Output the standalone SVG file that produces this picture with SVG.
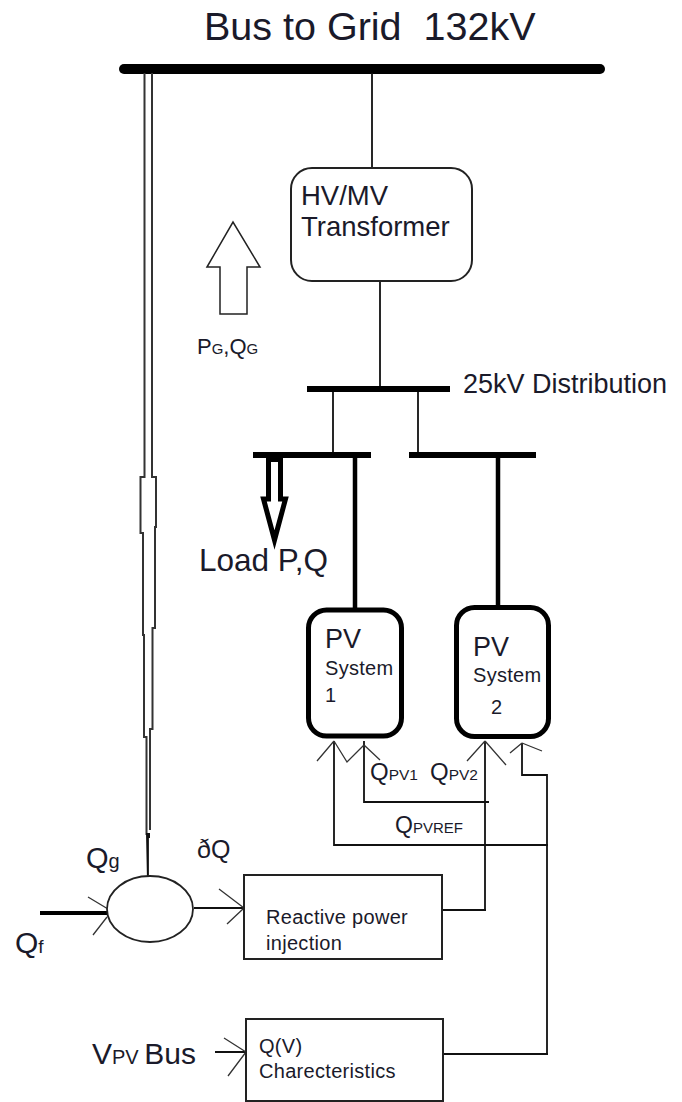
<svg xmlns="http://www.w3.org/2000/svg" width="682" height="1102" viewBox="0 0 682 1102">
<style>
text{font-family:"Liberation Sans",Arial,sans-serif;fill:#1a1a2a}
.l{fill:none;stroke:#111;stroke-width:2}
.t{fill:none;stroke:#111;stroke-width:1.800}
.p{fill:none;stroke:#333;stroke-width:2}
.h{fill:none;stroke:#333;stroke-width:1.300}
.bg{fill:#fff;stroke:#222;stroke-width:2}
.s19{font-size:20px;letter-spacing:.3px}
</style>
<rect width="682" height="1102" fill="#fff"/>
<g id="connectors">
<path d="M124 69H600" stroke="#000" stroke-width="10" stroke-linecap="round" fill="none"/>
<path class="t" d="M372 73V168M380 281V386M333 389V455M418 389V455"/>
<path d="M307 389H450M253 455H371M409 455H536" stroke="#000" stroke-width="6" fill="none"/>
<path d="M355 455V610M498 455V607" stroke="#000" stroke-width="4.500" fill="none"/>
<path class="p" d="M144.500 73V477H140.500V533H143V635H144V737H146.500V835M152 73V477H156V527H155V628H152.500V729H150V830"/>
<path d="M146 833H150V838H148V880H147Z" fill="#111"/>
<path d="M148 835V878" class="t"/>
<path d="M40 913H107" fill="none" stroke="#000" stroke-width="4"/>
<path class="t" d="M194 908H244M215 1052H246M442 910H486M485 910V741M443 1054H548M547 1054V775H522V743M548 845H334V741M364 741V802H489"/>
<path class="h" d="M113 912L88 897M107 917L93 935M244 908L219 889M244 908L227 924M246 1052L224 1038M246 1052L228 1076M334 741L317 761M334 741L347 762L364 745M364 745L380 760M485 741L467 761M485 741L506 765M522 743L510 753M522 743L542 751"/>
</g>
<g id="up-arrow"><path d="M207 267L233 222L260 267H247V314H220V267Z" fill="#fff" stroke="#222" stroke-width="1.500"/></g>
<g id="load-arrow"><path d="M268.500 458V499H263.500L274.500 540L285.500 499H280.500V458" fill="#fff" stroke="#000" stroke-width="5"/><path d="M266 459H283" stroke="#000" stroke-width="6"/></g>
<g id="transformer"><rect class="bg" x="291" y="168" width="181" height="113" rx="21"/><text x="301" y="205" font-size="27.500">HV/MV</text><text x="301" y="236" font-size="27.500">Transformer</text></g>
<g id="pv1"><rect x="308.500" y="610" width="93" height="126" rx="18" fill="#fff" stroke="#000" stroke-width="5"/><text x="325" y="648" font-size="27">PV</text><text x="325" y="675" class="s19">System</text><text x="325" y="702" class="s19">1</text></g>
<g id="pv2"><rect x="456.500" y="607.500" width="92" height="129" rx="18" fill="#fff" stroke="#000" stroke-width="5"/><text x="473" y="656" font-size="27">PV</text><text x="473" y="682" class="s19">System</text><text x="491" y="714" class="s19">2</text></g>
<g id="sum"><ellipse cx="150" cy="909" rx="43" ry="33" fill="#fff" stroke="#222" stroke-width="1.800"/></g>
<g id="rpi"><rect class="bg" x="244" y="875" width="198" height="84"/><text x="266" y="924" class="s19">Reactive power</text><text x="266" y="950" class="s19">injection</text></g>
<g id="qv"><rect class="bg" x="246" y="1019" width="197" height="82"/><text x="259" y="1053" class="s19">Q(V)</text><text x="259" y="1078" class="s19">Charecteristics</text></g>
<g id="labels">
<text x="204" y="40" font-size="39.500" xml:space="preserve">Bus to Grid  132kV</text>
<text x="197" y="354" font-size="22">P<tspan font-size="15">G</tspan>,Q<tspan font-size="15">G</tspan></text>
<text x="463" y="393" font-size="27">25kV Distribution</text>
<text x="199" y="571" font-size="31.500">Load P,Q</text>
<text x="370" y="780" font-size="24">Q<tspan font-size="15.500">PV1</tspan></text>
<text x="430" y="780" font-size="24">Q<tspan font-size="15.500">PV2</tspan></text>
<text x="395" y="833" font-size="23">Q<tspan font-size="15">PVREF</tspan></text>
<text x="86" y="868" font-size="29">Q<tspan font-size="20">g</tspan></text>
<text x="197" y="858" font-size="25">ðQ</text>
<text x="15" y="953" font-size="30">Q<tspan font-size="19">f</tspan></text>
<text x="92" y="1064" font-size="30">V<tspan font-size="20">PV </tspan>Bus</text>
</g>
</svg>
